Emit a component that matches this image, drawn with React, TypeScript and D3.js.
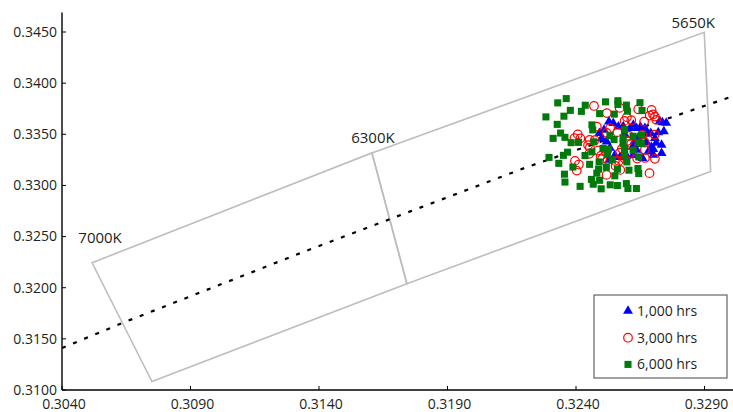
import React from "react";
import * as d3 from "d3";

// chromaticity ticks
const xTicks = [0.304, 0.309, 0.314, 0.319, 0.324, 0.329];
const yTicks = [0.31, 0.315, 0.32, 0.325, 0.33, 0.335, 0.34, 0.345];

// ANSI bin corners (x, y)
const bin7000 = [[0.30517, 0.32244], [0.31606, 0.33318], [0.31742, 0.32039], [0.3075, 0.31082]];
const bin5650 = [[0.31606, 0.33318], [0.32899, 0.34497], [0.32924, 0.33136], [0.31742, 0.32039]];
const binLabels = ["7000K", "6300K", "5650K"];

// planckian locus
const locus = [[0.304, 0.3141], [0.3064, 0.3166], [0.3135, 0.3236], [0.3221, 0.3318], [0.3303, 0.3389]];

const hrs1000 = [
  [0.32528, 0.33624], [0.32545, 0.33608], [0.32509, 0.33543], [0.32491, 0.33511], [0.32565, 0.33575],
  [0.32584, 0.33577], [0.3261, 0.3356], [0.32623, 0.33592], [0.32636, 0.3356], [0.32651, 0.33572],
  [0.32668, 0.3356], [0.32677, 0.33504], [0.32691, 0.33511], [0.32707, 0.33462], [0.32726, 0.33628],
  [0.32736, 0.33616], [0.32751, 0.33611], [0.32742, 0.33528], [0.3272, 0.33519], [0.32733, 0.33396],
  [0.32712, 0.33416], [0.32701, 0.33354], [0.32733, 0.33315], [0.32701, 0.33299], [0.32681, 0.33331],
  [0.32519, 0.33429], [0.325, 0.33462], [0.3253, 0.3325], [0.32571, 0.33276], [0.32597, 0.33289],
  [0.32621, 0.3338], [0.32636, 0.33348], [0.32659, 0.33267], [0.32693, 0.33377], [0.32622, 0.33296],
  [0.32551, 0.33296], [0.32673, 0.33423], [0.32628, 0.33433], [0.32532, 0.33367], [0.32591, 0.33494],
  [0.32641, 0.33465],
];

const hrs3000 = [
  [0.3247, 0.33777], [0.3252, 0.33707], [0.32598, 0.33667], [0.32589, 0.33631], [0.32615, 0.33638],
  [0.32642, 0.33745], [0.32694, 0.33738], [0.327, 0.33694], [0.32687, 0.33683], [0.32707, 0.33673],
  [0.32665, 0.33623], [0.32712, 0.33641], [0.32481, 0.33575], [0.32533, 0.3356], [0.32561, 0.33521],
  [0.32407, 0.33499], [0.32394, 0.33462], [0.32417, 0.3346], [0.32453, 0.33445], [0.32473, 0.33443],
  [0.32519, 0.33514], [0.32607, 0.33484], [0.32602, 0.33436], [0.32668, 0.33419], [0.32658, 0.33494],
  [0.32706, 0.33497], [0.32454, 0.3337], [0.32486, 0.33341], [0.32452, 0.33309], [0.32502, 0.3326],
  [0.32523, 0.3325], [0.32551, 0.3324], [0.32567, 0.3324], [0.32571, 0.33321], [0.32607, 0.33315],
  [0.32668, 0.33348], [0.32668, 0.33269], [0.32707, 0.3326], [0.32396, 0.3324], [0.32411, 0.33204],
  [0.32403, 0.33145], [0.32519, 0.33103], [0.32686, 0.3312], [0.32572, 0.33152], [0.32554, 0.33191],
  [0.32638, 0.33263], [0.32517, 0.33321], [0.32496, 0.33289], [0.32615, 0.33409], [0.32579, 0.3336],
  [0.3257, 0.33758], [0.32447, 0.33394], [0.32589, 0.33263],
];

const hrs6000 = [
  [0.32283, 0.3367], [0.32329, 0.33807], [0.32362, 0.33849], [0.32378, 0.33734], [0.32353, 0.33677],
  [0.32421, 0.33724], [0.32436, 0.33784], [0.32515, 0.33817], [0.32563, 0.33828], [0.32563, 0.33792],
  [0.32596, 0.33785], [0.32649, 0.33809], [0.326, 0.33726], [0.32657, 0.33732], [0.32492, 0.33702],
  [0.32549, 0.33697], [0.32462, 0.33592], [0.32327, 0.33597], [0.3234, 0.33512], [0.32311, 0.3346],
  [0.32357, 0.3347], [0.32381, 0.33418], [0.3241, 0.33421], [0.32465, 0.33543], [0.3247, 0.33426],
  [0.32532, 0.33486], [0.32548, 0.33448], [0.32505, 0.33362], [0.32526, 0.33354], [0.32589, 0.33546],
  [0.32622, 0.33481], [0.32655, 0.33494], [0.32643, 0.33419], [0.32583, 0.33465], [0.32295, 0.33274],
  [0.32333, 0.33216], [0.32367, 0.33325], [0.32351, 0.33294], [0.32388, 0.3318], [0.32355, 0.3311],
  [0.32357, 0.33033], [0.32416, 0.32991], [0.32435, 0.33292], [0.32462, 0.33328], [0.32453, 0.33206],
  [0.32488, 0.33159], [0.3249, 0.3323], [0.3246, 0.33059], [0.32492, 0.3305], [0.32467, 0.33012],
  [0.32498, 0.32967], [0.32533, 0.33006], [0.32561, 0.32999], [0.32551, 0.33094], [0.32518, 0.33177],
  [0.32522, 0.33302], [0.32541, 0.3325], [0.32481, 0.3312], [0.32561, 0.33159], [0.32589, 0.3336],
  [0.32622, 0.33345], [0.32589, 0.33296], [0.32644, 0.33279], [0.32598, 0.3323], [0.32606, 0.33149],
  [0.32641, 0.33165], [0.32644, 0.33116], [0.32596, 0.33018], [0.32602, 0.3297], [0.32635, 0.3297],
  [0.32654, 0.33409], [0.32583, 0.33409],
];

const legendLabels = ["1,000 hrs", "3,000 hrs", "6,000 hrs"];

const W = 733;
const H = 412;
const font = "'Open Sans', sans-serif";

export default function App() {
  const x = d3.scaleLinear().domain([0.304, 0.329]).range([62, 704.5]);
  const y = d3.scaleLinear().domain([0.31, 0.345]).range([390, 32]);
  const fmt = d3.format(".4f");
  const poly = (pts: number[][]) => pts.map((p) => `${x(p[0])},${y(p[1])}`).join(" ");
  const line = d3.line<number[]>().x((d) => x(d[0])).y((d) => y(d[1]));
  const tri = d3.symbol().type(d3.symbolTriangle).size(42)();
  const sq = d3.symbol().type(d3.symbolSquare).size(50)();
  const top = y(0.3469);

  const corners = [
    { p: bin7000[0], dx: 8, dy: -20 },
    { p: bin7000[1], dx: 1, dy: -10 },
    { p: bin5650[1], dx: -11, dy: -4 },
  ];

  return (
    <svg width={W} height={H} style={{ position: "absolute", left: 0, top: 0, fontFamily: font }}>
      <rect width={W} height={H} fill="#fff" />
      <polygon points={poly(bin7000)} fill="none" stroke="#bdbdbd" strokeWidth={1.6} />
      <polygon points={poly(bin5650)} fill="none" stroke="#bdbdbd" strokeWidth={1.6} />
      {corners.map((c, i) => (
        <text key={i} x={x(c.p[0]) + c.dx} y={y(c.p[1]) + c.dy} textAnchor="middle" fontSize={15} fill="#231f20">
          {binLabels[i]}
        </text>
      ))}
      <path d={line(locus) || ""} fill="none" stroke="#000" strokeWidth={2.2} strokeDasharray="4 8" />

      {hrs1000.map((d, i) => (
        <path key={"b" + i} d={tri} transform={`translate(${x(d[0])},${y(d[1])})`} fill="#0000ff" />
      ))}
      {hrs3000.map((d, i) => (
        <circle key={"r" + i} cx={x(d[0])} cy={y(d[1])} r={4.3} fill="none" stroke="#ff0000" strokeWidth={1.2} />
      ))}
      {hrs6000.map((d, i) => (
        <path key={"g" + i} d={sq} transform={`translate(${x(d[0])},${y(d[1])})`} fill="#007a0a" />
      ))}

      {/* axes */}
      <line x1={62} x2={62} y1={top} y2={390} stroke="#000" strokeWidth={1.4} />
      <line x1={62} x2={W} y1={390} y2={390} stroke="#000" strokeWidth={1.4} />
      {yTicks.map((t) => (
        <g key={"y" + t}>
          <line x1={62} x2={66} y1={y(t)} y2={y(t)} stroke="#000" />
          <text x={57} y={y(t)} dy="0.35em" textAnchor="end" fontSize={14} fill="#231f20">
            {fmt(t)}
          </text>
        </g>
      ))}
      {xTicks.map((t) => (
        <g key={"x" + t}>
          <line x1={x(t)} x2={x(t)} y1={390} y2={386} stroke="#000" />
          <text x={x(t) + 2} y={409} textAnchor="middle" fontSize={14} fill="#231f20">
            {fmt(t)}
          </text>
        </g>
      ))}

      {/* legend */}
      <rect x={594} y={295} width={133} height={83} fill="#fff" stroke="#444" strokeWidth={1} />
      {legendLabels.map((l, i) => {
        const cy = 311 + i * 26.7;
        return (
          <g key={l}>
            {i === 0 && <path d={tri} transform={`translate(628,${cy})`} fill="#0000ff" />}
            {i === 1 && <circle cx={628} cy={cy} r={4.3} fill="none" stroke="#ff0000" strokeWidth={1.2} />}
            {i === 2 && <path d={sq} transform={`translate(628,${cy})`} fill="#007a0a" />}
            <text x={637} y={cy} dy="0.35em" fontSize={14} fill="#231f20">
              {l}
            </text>
          </g>
        );
      })}
    </svg>
  );
}
